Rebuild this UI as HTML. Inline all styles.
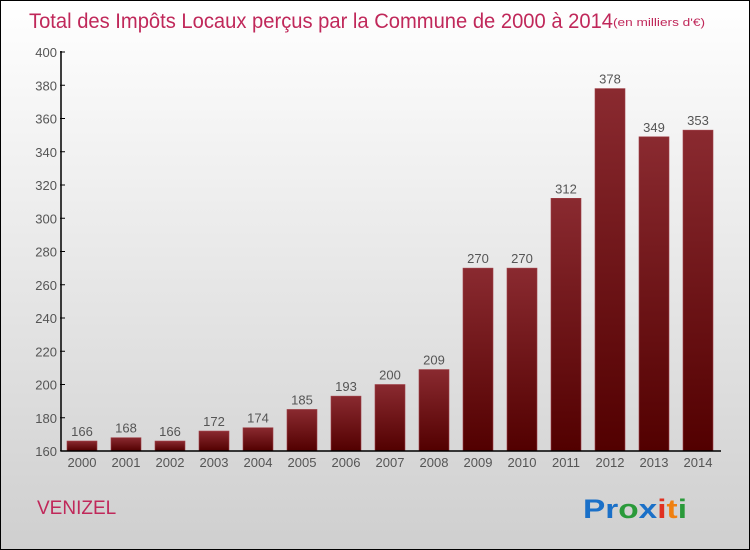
<!DOCTYPE html>
<html><head><meta charset="utf-8"><style>
body{margin:0}
#c{width:748px;height:548px;border:1px solid #000;background:linear-gradient(#ffffff,#cfcfcf);position:relative;font-family:"Liberation Sans",sans-serif;overflow:hidden}
</style></head><body>
<div id="c">
<svg width="748" height="548" id="s">
<defs><linearGradient id="g" x1="0" y1="0" x2="0" y2="1"><stop offset="0" stop-color="#8a2a30"/><stop offset="1" stop-color="#520000"/></linearGradient></defs>
<text x="28" y="27" font-size="21" fill="#c0285a" textLength="584" lengthAdjust="spacingAndGlyphs">Total des Impôts Locaux perçus par la Commune de 2000 à 2014</text>
<text x="612" y="25" font-size="11" fill="#c0285a" textLength="92" lengthAdjust="spacingAndGlyphs">(en milliers d'€)</text>
<text x="36" y="513" font-size="19" fill="#c0285a">VENIZEL</text>
<g font-size="27" font-weight="bold"><text x="582" y="517" textLength="104" lengthAdjust="spacingAndGlyphs"><tspan fill="#1a70c8">Pr</tspan><tspan fill="#2a9a3a">o</tspan><tspan fill="#1a70c8">x</tspan><tspan fill="#e03020">i</tspan><tspan fill="#f08010">t</tspan><tspan fill="#2a9a3a">i</tspan></text></g>
</svg>
</div>
<script>
const years=["2000","2001","2002","2003","2004","2005","2006","2007","2008","2009","2010","2011","2012","2013","2014"];
const values=[166,168,166,172,174,185,193,200,209,270,270,312,378,349,353];
const ticks=[160,180,200,220,240,260,280,300,320,340,360,380,400];
const s=document.getElementById('s'),NS='http://www.w3.org/2000/svg';
const y=v=>450-(v-160)*(399/240);
const x=i=>81+i*44;
function mk(t,a,p){const e=document.createElementNS(NS,t);for(const k in a)e.setAttribute(k,a[k]);(p||s).appendChild(e);return e;}
ticks.forEach(t=>{
 const l=mk('line',{x1:59,x2:64,y1:y(t),y2:y(t),stroke:'#000'});
 
 
 const tx=mk('text',{x:56,y:y(t)+5,'text-anchor':'end','font-size':13,fill:'#555'});tx.textContent=t;
 
 
});
values.forEach((v,i)=>{
 const r=mk('rect',{x:x(i)-15,y:y(v),width:30,height:450-y(v),fill:'url(#g)',stroke:'#a04048','stroke-width':0.6});
 
 
 const lt=mk('text',{x:x(i),y:y(v)-5,'text-anchor':'middle','font-size':13,fill:'#555'});lt.textContent=v;
 
 
 const xt=mk('text',{x:x(i),y:466,'text-anchor':'middle','font-size':13,fill:'#555'});xt.textContent=years[i];
 
 
});
const ax=mk('line',{x1:60,x2:60,y1:50,y2:450,stroke:'#000','stroke-width':1.5});


const bx=mk('line',{x1:60,x2:720,y1:450,y2:450,stroke:'#000','stroke-width':1.5});


</script>
</body></html>
